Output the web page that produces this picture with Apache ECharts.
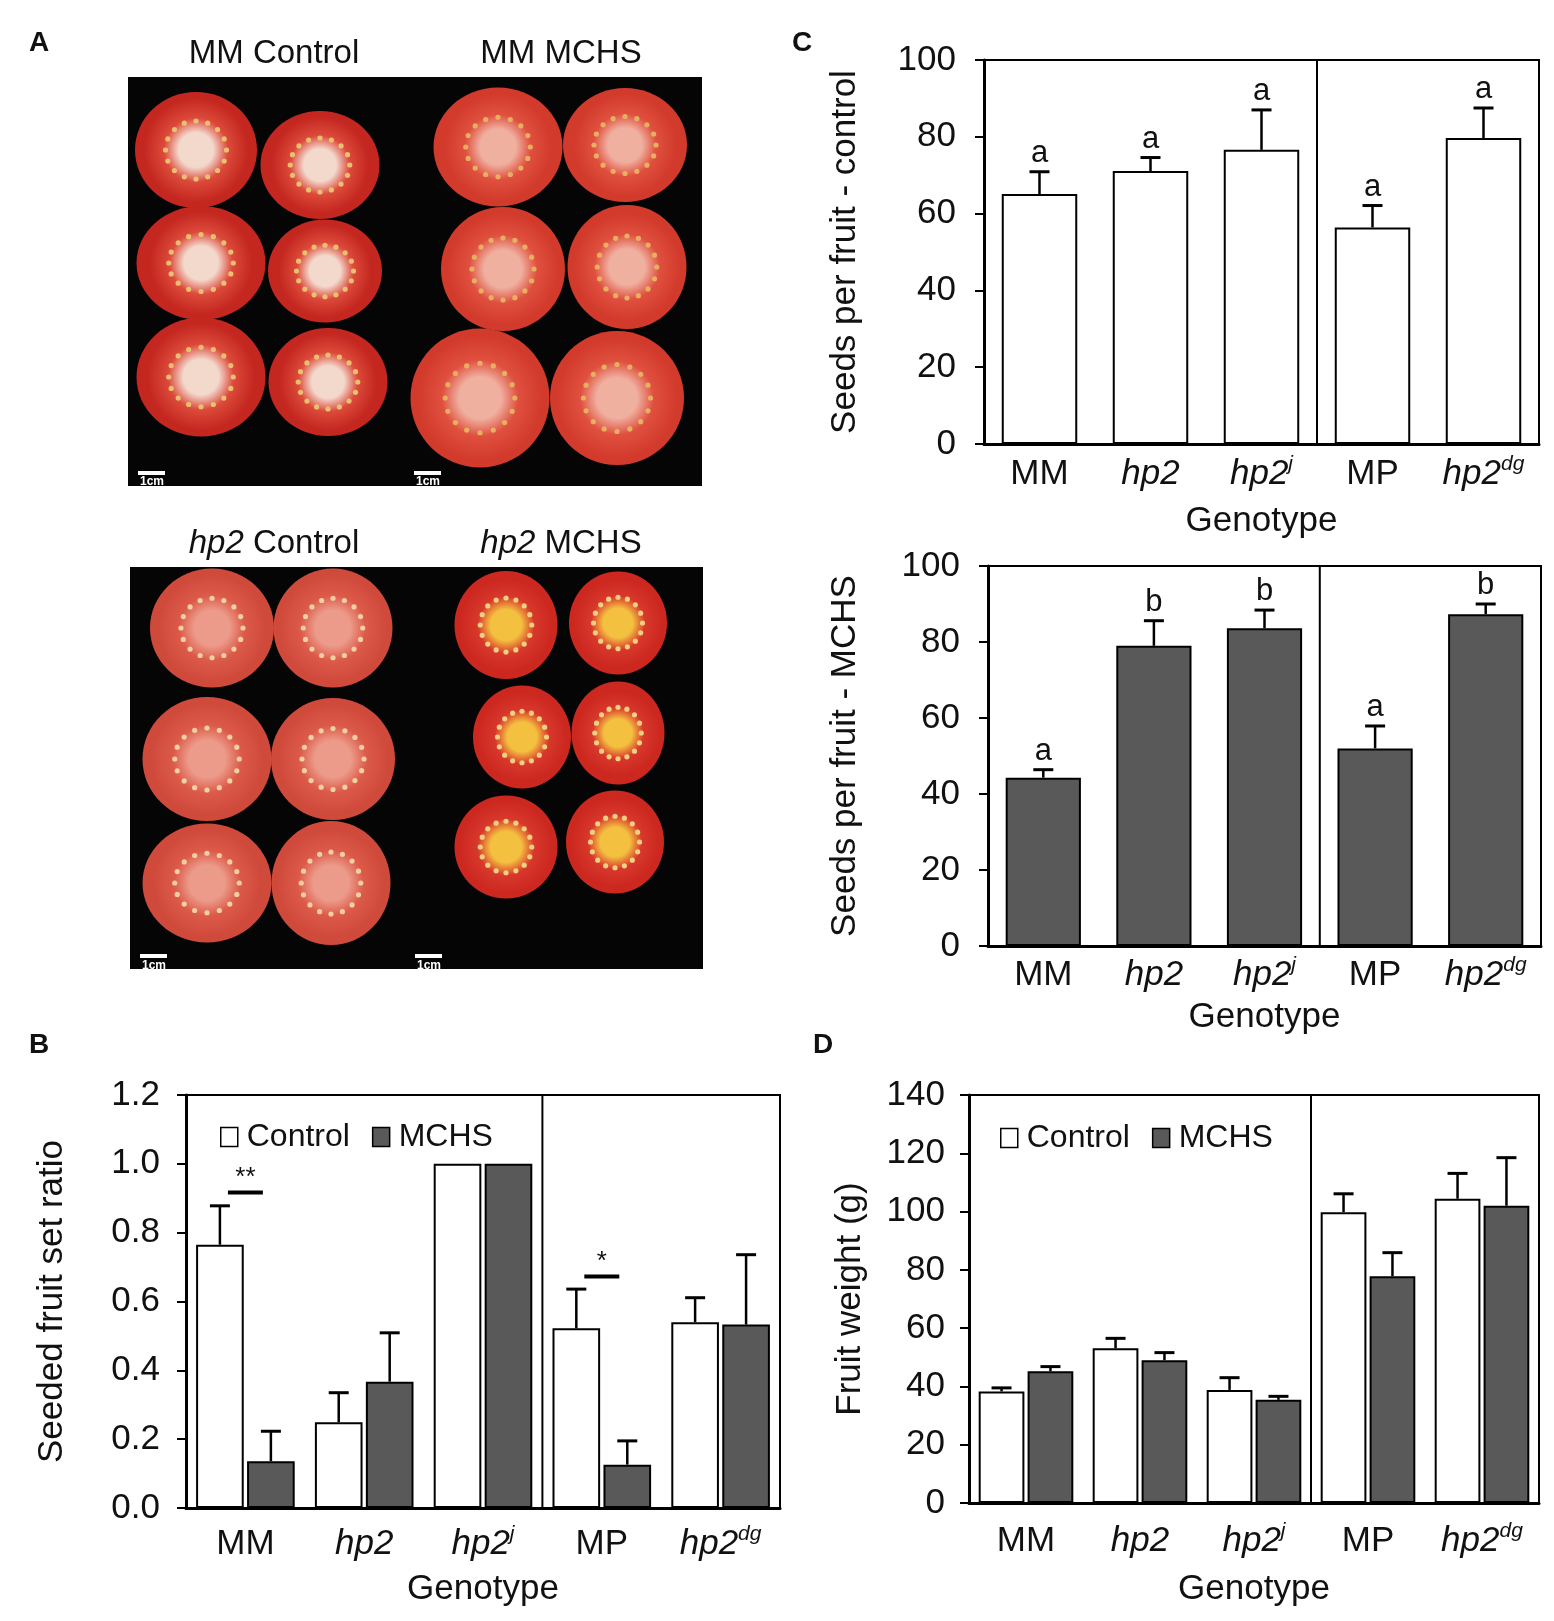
<!DOCTYPE html>
<html>
<head>
<meta charset="utf-8">
<style>
  body { margin: 0; background: #fff; }
  #main { width: 1554px; height: 1621px; }
</style>
</head>
<body>
<div id="main"></div>
<script src="https://cdn.jsdelivr.net/npm/echarts/dist/echarts.min.js"></script>
<script>
// ---- data ----
var genotypes = ['MM', 'hp2', 'hp2j', 'MP', 'hp2dg'];
var genotypeLabels = ['{n|MM}', '{i|hp2}', '{i|hp2}{s|j}', '{n|MP}', '{i|hp2}{s|dg}'];

// C - seeds per fruit
var seedsControl = [65.1, 71.1, 76.6, 56.4, 79.7];
var seedsControlErr = [5.8, 3.5, 10.4, 5.7, 7.8];
var seedsControlLetters = ['a', 'a', 'a', 'a', 'a'];
var seedsMCHS = [44.3, 79.0, 83.6, 52.0, 87.3];
var seedsMCHSErr = [2.1, 6.6, 4.8, 5.9, 2.7];
var seedsMCHSLetters = ['a', 'b', 'b', 'a', 'b'];

// B - seeded fruit set ratio
var setControl = [0.765, 0.249, 1.0, 0.522, 0.540];
var setControlErr = [0.113, 0.086, 0, 0.114, 0.071];
var setMCHS = [0.136, 0.367, 1.0, 0.126, 0.533];
var setMCHSErr = [0.087, 0.142, 0, 0.069, 0.203];
var setSignif = [[0, 0.917, '**'], [3, 0.673, '*']];

// D - fruit weight (g)
var weightControl = [38.3, 53.1, 38.8, 99.8, 104.4];
var weightControlErr = [1.2, 3.4, 4.2, 6.3, 8.7];
var weightMCHS = [45.2, 49.0, 35.4, 77.8, 102.0];
var weightMCHSErr = [1.6, 2.6, 1.2, 8.1, 16.5];

// ---- style ----
var S = 1.033;
function px(v) { return Math.round(v * S); }
var narrow = "'Liberation Sans Narrow', 'Arial Narrow', 'Liberation Sans', sans-serif";
var sans = "'Liberation Sans', Arial, sans-serif";
var DARK = '#595959';

var rich = {
  n: { fontFamily: narrow, fontSize: 35, color: '#111', lineHeight: 40 },
  i: { fontFamily: narrow, fontSize: 35, fontStyle: 'italic', color: '#111', lineHeight: 40 },
  s: { fontFamily: narrow, fontSize: 21, fontStyle: 'italic', color: '#111', lineHeight: 24, verticalAlign: 'top' }
};

var dom = document.getElementById('main');
var myChart = echarts.init(dom);

// grids: 0 = C top, 1 = C bottom, 2 = B, 3 = D
var grids = [
  { left: px(953), top: px(58), width: px(1490) - px(953), height: px(430) - px(58) },
  { left: px(956), top: px(548), width: px(1492) - px(956), height: px(916) - px(548) },
  { left: px(180), top: px(1060), width: px(755) - px(180), height: px(1460) - px(1060) },
  { left: px(938), top: px(1060), width: px(1490) - px(938), height: px(1455) - px(1060) }
];
grids.forEach(function (g) {
  g.show = true;
  g.borderColor = '#000';
  g.borderWidth = 2;
  g.containLabel = false;
});

function catAxis(gi, margin, nameGap) {
  return {
    type: 'category', gridIndex: gi, data: genotypeLabels,
    axisTick: { show: false },
    axisLine: { lineStyle: { color: '#000', width: 3 } },
    axisLabel: { margin: margin, interval: 0, rich: rich },
    name: 'Genotype', nameLocation: 'middle', nameGap: nameGap,
    nameTextStyle: { fontFamily: sans, fontSize: 35, color: '#111' }
  };
}
function hiddenAxis(gi) {
  return { type: 'value', gridIndex: gi, min: 0, max: 5, show: false, position: 'top' };
}
function valAxis(gi, max, interval, name, nameGap, margin, digits) {
  return {
    type: 'value', gridIndex: gi, min: 0, max: max, interval: interval,
    name: name, nameLocation: 'middle', nameGap: nameGap,
    nameTextStyle: { fontFamily: sans, fontSize: 35, color: '#111' },
    axisLine: { show: true, lineStyle: { color: '#000', width: 3 } },
    axisTick: { show: true, length: 9, lineStyle: { color: '#000', width: 2 } },
    splitLine: { show: false },
    axisLabel: {
      margin: margin, fontFamily: narrow, fontSize: 35, color: '#111',
      formatter: function (v) { return v.toFixed(digits); }
    }
  };
}

// error bars (upwards only) + optional letters above
function errRenderer(nBars, k, catGap, barGap, letters) {
  return function (params, api) {
    var cat = api.value(0), v = api.value(1), e = api.value(2);
    var cw = api.size([1, 0])[0];
    var bw = cw * (1 - catGap) / (nBars + (nBars - 1) * barGap);
    var total = nBars * bw + (nBars - 1) * barGap * bw;
    var off = -total / 2 + bw / 2 + k * bw * (1 + barGap);
    var base = api.coord([cat, v]);
    var top = api.coord([cat, v + e]);
    var x = base[0] + off;
    var cap = 10;
    var children = [];
    if (e > 0) {
      children.push({ type: 'line', shape: { x1: x, y1: base[1], x2: x, y2: top[1] }, style: { stroke: '#000', lineWidth: 2.5 } });
      children.push({ type: 'line', shape: { x1: x - cap, y1: top[1], x2: x + cap, y2: top[1] }, style: { stroke: '#000', lineWidth: 3 } });
    }
    if (letters) {
      children.push({
        type: 'text',
        style: { text: letters[params.dataIndex], x: x, y: top[1] - 3, align: 'center', verticalAlign: 'bottom',
                 fontFamily: narrow, fontSize: 31, fill: '#111' }
      });
    }
    return { type: 'group', children: children };
  };
}

// significance bars between the two bars of a group
function signifRenderer(catGap, barGap) {
  return function (params, api) {
    var cat = api.value(0), y = api.value(1);
    var cw = api.size([1, 0])[0];
    var bw = cw * (1 - catGap) / (2 + barGap);
    var half = bw * (1 + barGap) / 2;
    var p = api.coord([cat, y]);
    return {
      type: 'group',
      children: [
        { type: 'line', shape: { x1: p[0] - half + 8, y1: p[1], x2: p[0] + half - 8, y2: p[1] }, style: { stroke: '#000', lineWidth: 4 } },
        { type: 'text', style: { text: setSignif[params.dataIndex][2], x: p[0], y: p[1] - 2, align: 'center', verticalAlign: 'bottom',
                                 fontFamily: sans, fontSize: 26, fill: '#111' } }
      ]
    };
  };
}

function errData(vals, errs) {
  return vals.map(function (v, i) { return [i, v, errs[i]]; });
}

function divider(gi, ymax) {
  return {
    type: 'line', xAxisIndex: gi * 2 + 1, yAxisIndex: gi, data: [[3, 0], [3, ymax]],
    symbol: 'none', silent: true, lineStyle: { color: '#000', width: 2 }, z: 3
  };
}

var barBorder = { borderColor: '#000', borderWidth: 2 };
var singleGap = 0.32;
var pairCatGap = 0.17, pairBarGap = 0.07;

var series = [
  // C top
  { name: 'Seeds control', type: 'bar', xAxisIndex: 0, yAxisIndex: 0, data: seedsControl, barCategoryGap: '32%',
    itemStyle: Object.assign({ color: '#fff' }, barBorder) },
  { type: 'custom', xAxisIndex: 0, yAxisIndex: 0, data: errData(seedsControl, seedsControlErr),
    renderItem: errRenderer(1, 0, singleGap, 0, seedsControlLetters), z: 5 },
  divider(0, 100),
  // C bottom
  { name: 'Seeds MCHS', type: 'bar', xAxisIndex: 2, yAxisIndex: 1, data: seedsMCHS, barCategoryGap: '32%',
    itemStyle: Object.assign({ color: DARK }, barBorder) },
  { type: 'custom', xAxisIndex: 2, yAxisIndex: 1, data: errData(seedsMCHS, seedsMCHSErr),
    renderItem: errRenderer(1, 0, singleGap, 0, seedsMCHSLetters), z: 5 },
  divider(1, 100),
  // B
  { name: 'Control', type: 'bar', xAxisIndex: 4, yAxisIndex: 2, data: setControl, barCategoryGap: '17%', barGap: '7%',
    itemStyle: Object.assign({ color: '#fff' }, barBorder) },
  { name: 'MCHS', type: 'bar', xAxisIndex: 4, yAxisIndex: 2, data: setMCHS, barCategoryGap: '17%', barGap: '7%',
    itemStyle: Object.assign({ color: DARK }, barBorder) },
  { type: 'custom', xAxisIndex: 4, yAxisIndex: 2, data: errData(setControl, setControlErr),
    renderItem: errRenderer(2, 0, pairCatGap, pairBarGap), z: 5 },
  { type: 'custom', xAxisIndex: 4, yAxisIndex: 2, data: errData(setMCHS, setMCHSErr),
    renderItem: errRenderer(2, 1, pairCatGap, pairBarGap), z: 5 },
  { type: 'custom', xAxisIndex: 4, yAxisIndex: 2, data: setSignif.map(function (s) { return [s[0], s[1]]; }),
    renderItem: signifRenderer(pairCatGap, pairBarGap), z: 5 },
  divider(2, 1.2),
  // D
  { name: 'Control', type: 'bar', xAxisIndex: 6, yAxisIndex: 3, data: weightControl, barCategoryGap: '17%', barGap: '7%',
    itemStyle: Object.assign({ color: '#fff' }, barBorder) },
  { name: 'MCHS', type: 'bar', xAxisIndex: 6, yAxisIndex: 3, data: weightMCHS, barCategoryGap: '17%', barGap: '7%',
    itemStyle: Object.assign({ color: DARK }, barBorder) },
  { type: 'custom', xAxisIndex: 6, yAxisIndex: 3, data: errData(weightControl, weightControlErr),
    renderItem: errRenderer(2, 0, pairCatGap, pairBarGap), z: 5 },
  { type: 'custom', xAxisIndex: 6, yAxisIndex: 3, data: errData(weightMCHS, weightMCHSErr),
    renderItem: errRenderer(2, 1, pairCatGap, pairBarGap), z: 5 },
  divider(3, 140)
];

// ---- panel A: photo stand-ins ----
var photos = [
  { rect: [124, 75, 391, 470], center: '#f3d8cc', mid: '#dc4a3a', edge: '#c42720', seed: '#e8c070',
    fruits: [[190, 145, 118, 112], [310, 160, 115, 105], [195, 255, 125, 110], [315, 262, 110, 100], [195, 365, 125, 115], [318, 370, 115, 105]] },
  { rect: [391, 75, 680, 470], center: '#f0b0a0', mid: '#e0503e', edge: '#d23a2c', seed: '#e6b060',
    fruits: [[482, 142, 125, 115], [605, 140, 120, 110], [487, 260, 120, 120], [607, 258, 115, 120], [465, 385, 135, 135], [597, 385, 130, 130]] },
  { rect: [126, 549, 392, 938], center: '#ec9a8a', mid: '#dc5a4a', edge: '#d04a3c', seed: '#f0d0a0',
    fruits: [[205, 608, 120, 115], [322, 608, 115, 115], [200, 735, 125, 120], [322, 735, 120, 118], [200, 855, 125, 115], [320, 855, 115, 120]] },
  { rect: [392, 549, 681, 938], center: '#f4c040', mid: '#d8382c', edge: '#cc2820', seed: '#f0d080',
    fruits: [[490, 605, 100, 105], [598, 603, 95, 100], [505, 713, 95, 100], [598, 710, 90, 100], [490, 820, 100, 100], [595, 815, 95, 100]] }
];

var graphics = [];
photos.forEach(function (ph) {
  var r = ph.rect;
  graphics.push({ type: 'rect', shape: { x: px(r[0]), y: px(r[1]), width: px(r[2]) - px(r[0]), height: px(r[3]) - px(r[1]) },
                  style: { fill: '#050505' }, z: 1 });
  ph.fruits.forEach(function (f) {
    var cx = px(f[0]), cy = px(f[1]), rx = px(f[2]) / 2, ry = px(f[3]) / 2;
    graphics.push({ type: 'ellipse', shape: { cx: cx, cy: cy, rx: rx, ry: ry },
      style: { fill: new echarts.graphic.RadialGradient(0.5, 0.5, 0.5, [
        { offset: 0, color: ph.center }, { offset: 0.3, color: ph.center },
        { offset: 0.55, color: ph.mid }, { offset: 0.9, color: ph.edge }, { offset: 1, color: ph.edge }]) }, z: 2 });
    for (var a = 0; a < 16; a++) {
      var ang = a / 16 * Math.PI * 2;
      graphics.push({ type: 'circle', shape: { cx: cx + Math.cos(ang) * rx * 0.5, cy: cy + Math.sin(ang) * ry * 0.5, r: 2.6 },
                      style: { fill: ph.seed }, z: 3 });
    }
  });
  graphics.push({ type: 'rect', shape: { x: px(r[0] + 10), y: px(r[3] - 14), width: px(26), height: 4 }, style: { fill: '#fff' }, z: 4 });
  graphics.push({ type: 'text', style: { text: '1cm', x: px(r[0] + 23), y: px(r[3] - 9), align: 'center', verticalAlign: 'top',
                  fontFamily: narrow, fontSize: 12, fontWeight: 'bold', fill: '#fff' }, z: 4 });
});

var photoTitles = [
  ['{n|MM Control}', 265, 52], ['{n|MM MCHS}', 543, 52],
  ['{i|hp2}{n| Control}', 265, 527], ['{i|hp2}{n| MCHS}', 543, 527]
];
photoTitles.forEach(function (t) {
  graphics.push({ type: 'text', style: { text: t[0], x: px(t[1]), y: px(t[2]), align: 'center', verticalAlign: 'middle',
    rich: {
      n: { fontFamily: narrow, fontSize: 33, fill: '#111' },
      i: { fontFamily: narrow, fontSize: 33, fontStyle: 'italic', fill: '#111' }
    } }, z: 4 });
});

[['A', 38, 42], ['C', 776, 42], ['B', 38, 1012], ['D', 797, 1012]].forEach(function (l) {
  graphics.push({ type: 'text', style: { text: l[0], x: px(l[1]), y: px(l[2]), align: 'center', verticalAlign: 'middle',
    fontFamily: sans, fontWeight: 'bold', fontSize: 28, fill: '#111' }, z: 4 });
});

var legendBase = {
  data: ['Control', 'MCHS'], icon: 'rect', itemWidth: 17, itemHeight: 19, itemGap: 22,
  textStyle: { fontFamily: narrow, fontSize: 32, color: '#111', padding: [0, 0, 0, 4] },
  itemStyle: { borderColor: '#000', borderWidth: 1.5 }, selectedMode: false
};

option = {
  animation: false,
  backgroundColor: '#fff',
  grid: grids,
  xAxis: [
    catAxis(0, 10, 60), hiddenAxis(0),
    catAxis(1, 9, 54), hiddenAxis(1),
    catAxis(2, 16, 64), hiddenAxis(2),
    catAxis(3, 18, 69), hiddenAxis(3)
  ],
  yAxis: [
    valAxis(0, 100, 20, 'Seeds per fruit - control', 121, 28, 0),
    valAxis(1, 100, 20, 'Seeds per fruit - MCHS', 125, 28, 0),
    valAxis(2, 1.2, 0.2, 'Seeded fruit set ratio', 116, 26, 1),
    valAxis(3, 140, 20, 'Fruit weight (g)', 101, 24, 0)
  ],
  legend: [
    Object.assign({ left: px(208), top: px(1100) - 20 }, legendBase),
    Object.assign({ left: px(963), top: px(1101) - 20 }, legendBase)
  ],
  graphic: graphics,
  series: series
};

if (option && typeof option === 'object') {
  myChart.setOption(option, true);
}
</script>
</body>
</html>
